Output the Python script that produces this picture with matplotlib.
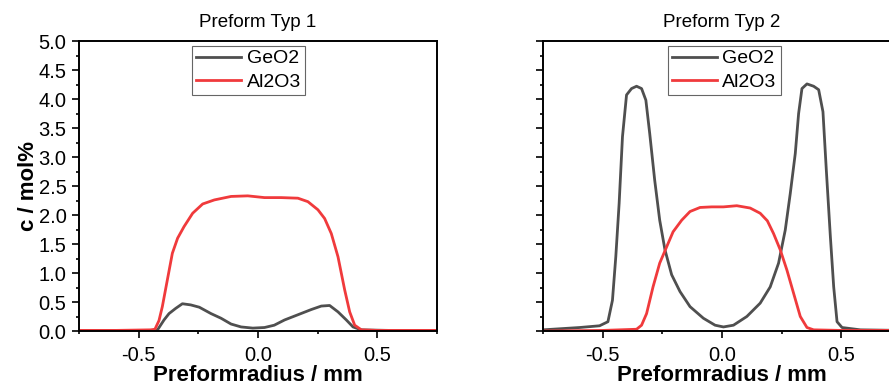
import matplotlib.pyplot as plt
from matplotlib.ticker import MultipleLocator

plt.rcParams['font.family'] = ['Liberation Sans', 'DejaVu Sans']
plt.rcParams['axes.unicode_minus'] = False

# Preform Typ 1
typ1_ge_x = [-0.75, -0.55, -0.43, -0.421, -0.394, -0.373, -0.345, -0.317, -0.282, -0.246,
             -0.197, -0.155, -0.113, -0.071, -0.022, 0.027, 0.068, 0.111, 0.167, 0.223,
             0.265, 0.300, 0.335, 0.370, 0.398, 0.433, 0.55, 0.75]
typ1_ge_y = [0.01, 0.01, 0.01, 0.02, 0.19, 0.30, 0.39, 0.47, 0.45, 0.41,
             0.30, 0.22, 0.12, 0.07, 0.05, 0.06, 0.10, 0.19, 0.28, 0.37,
             0.43, 0.44, 0.33, 0.19, 0.07, 0.02, 0.01, 0.01]
typ1_al_x = [-0.75, -0.60, -0.45, -0.432, -0.415, -0.401, -0.380, -0.359, -0.337, -0.310,
             -0.274, -0.232, -0.183, -0.113, -0.043, 0.027, 0.097, 0.167, 0.209, 0.251,
             0.279, 0.307, 0.335, 0.363, 0.384, 0.405, 0.433, 0.50, 0.60, 0.75]
typ1_al_y = [0.01, 0.01, 0.02, 0.03, 0.18, 0.42, 0.88, 1.34, 1.60, 1.80,
             2.03, 2.19, 2.26, 2.32, 2.33, 2.30, 2.30, 2.29, 2.23, 2.09,
             1.94, 1.68, 1.28, 0.71, 0.33, 0.10, 0.02, 0.01, 0.01, 0.01]

# Preform Typ 2
typ2_ge_x = [-0.75, -0.597, -0.513, -0.478, -0.459, -0.445, -0.431, -0.417, -0.400, -0.379,
             -0.358, -0.337, -0.319, -0.303, -0.282, -0.261, -0.239, -0.211, -0.176, -0.134,
             -0.078, -0.029, 0.006, 0.048, 0.104, 0.160, 0.202, 0.237, 0.265, 0.286,
             0.307, 0.321, 0.335, 0.356, 0.384, 0.405, 0.423, 0.437, 0.454, 0.468,
             0.482, 0.503, 0.580, 0.75]
typ2_ge_y = [0.02, 0.06, 0.09, 0.16, 0.53, 1.28, 2.20, 3.35, 4.07, 4.18,
             4.22, 4.18, 3.98, 3.41, 2.60, 1.91, 1.40, 0.97, 0.68, 0.42,
             0.22, 0.10, 0.07, 0.10, 0.25, 0.48, 0.76, 1.17, 1.74, 2.37,
             3.06, 3.75, 4.18, 4.26, 4.22, 4.16, 3.78, 2.78, 1.63, 0.76,
             0.16, 0.06, 0.02, 0.01]
typ2_al_x = [-0.75, -0.50, -0.358, -0.337, -0.316, -0.289, -0.261, -0.232, -0.205, -0.169,
             -0.134, -0.092, -0.043, 0.006, 0.062, 0.118, 0.160, 0.190, 0.216, 0.244,
             0.272, 0.300, 0.328, 0.356, 0.384, 0.50, 0.75]
typ2_al_y = [0.0, 0.01, 0.03, 0.10, 0.30, 0.76, 1.17, 1.45, 1.71, 1.91,
             2.06, 2.13, 2.14, 2.14, 2.16, 2.12, 2.03, 1.90, 1.68, 1.40,
             1.05, 0.65, 0.25, 0.06, 0.02, 0.01, 0.01]

GREY = '#4f4f4f'
RED = '#f03a3c'


def draw_panel(ax, title, ge_x, ge_y, al_x, al_y, legend_x, show_labels):
    ax.plot(ge_x, ge_y, color=GREY, lw=2.0, label='GeO2')
    ax.plot(al_x, al_y, color=RED, lw=2.0, label='Al2O3')
    ax.set_xlim(-0.75, 0.75)
    ax.set_ylim(0, 5)
    ax.xaxis.set_major_locator(MultipleLocator(0.5))
    ax.xaxis.set_minor_locator(MultipleLocator(0.25))
    ax.yaxis.set_major_locator(MultipleLocator(0.5))
    ax.yaxis.set_minor_locator(MultipleLocator(0.25))
    ax.tick_params(which='both', direction='out', width=1.2, top=False, right=False)
    ax.tick_params(which='major', length=5)
    ax.tick_params(which='minor', length=2.5)
    ax.tick_params(axis='x', labelsize=14.5, pad=6)
    ax.tick_params(axis='y', labelsize=14.5, pad=4, labelleft=show_labels)
    for sp in ax.spines.values():
        sp.set_linewidth(1.4)
    ax.set_title(title, fontsize=13.5, pad=10)
    ax.set_xlabel('Preformradius / mm', fontsize=16, fontweight='bold', labelpad=0)
    if show_labels:
        ax.set_ylabel('c / mol%', fontsize=16, fontweight='bold', labelpad=0)
    leg = ax.legend(loc='upper left', bbox_to_anchor=(legend_x, 0.983), borderaxespad=0,
                    fontsize=14, fancybox=False, edgecolor='#666666', framealpha=1,
                    handlelength=2.3, handletextpad=0.3, borderpad=0.2, labelspacing=0.3)
    leg.get_frame().set_linewidth(0.8)


fig = plt.figure(figsize=(8.89, 3.89), dpi=100)
ax1 = fig.add_axes([0.0889, 0.1491, 0.4027, 0.7455])
ax2 = fig.add_axes([0.6108, 0.1491, 0.4027, 0.7455])

draw_panel(ax1, 'Preform Typ 1', typ1_ge_x, typ1_ge_y, typ1_al_x, typ1_al_y, 0.316, True)
draw_panel(ax2, 'Preform Typ 2', typ2_ge_x, typ2_ge_y, typ2_al_x, typ2_al_y, 0.349, False)

fig.savefig('out.png', dpi=100)
